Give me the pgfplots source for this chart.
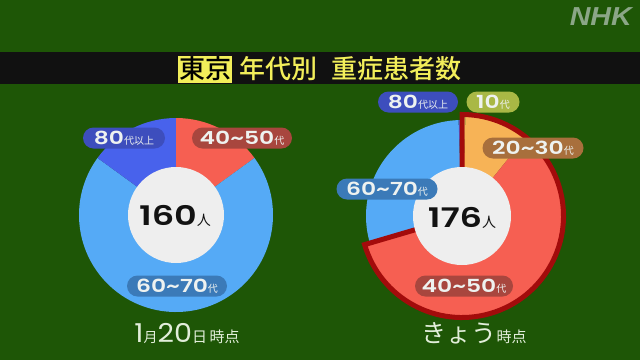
\documentclass[border=0pt]{standalone}
\usepackage{pgfplots}
\pgfplotsset{compat=1.18}
\usepackage{pgfplotstable}
\usepackage{fontspec}
\setmainfont{Noto Sans CJK JP}
\newfontfamily\cjk{Noto Sans CJK JP}
\newfontfamily\cjkmed{Noto Sans CJK JP Medium}
\newfontfamily\numfont{Poppins SemiBold}
\newfontfamily\capfont{Poppins}
\newfontfamily\logofont{Liberation Sans}

\definecolor{bg}{HTML}{1E5606}
\definecolor{bar}{HTML}{111111}
\definecolor{titleyellow}{HTML}{F2EE5A}
\definecolor{c10}{HTML}{F2EE7A}
\definecolor{c2030}{HTML}{F7B356}
\definecolor{c4050}{HTML}{F65F52}
\definecolor{c6070}{HTML}{55AAF6}
\definecolor{c80}{HTML}{4862EC}
\definecolor{hl}{HTML}{A30B0B}
\definecolor{hole}{HTML}{EEEEEE}
\definecolor{p10}{HTML}{A9B845}
\definecolor{p2030}{HTML}{A86F3C}
\definecolor{p4050}{HTML}{A8463E}
\definecolor{p6070}{HTML}{3B7AB8}
\definecolor{p80}{HTML}{3D4EBD}
\definecolor{pilltext}{HTML}{EEF2F0}
\definecolor{caption}{HTML}{E2EEDA}
\definecolor{logo}{HTML}{8BA687}

% severe cases by age group (persons)
\pgfplotstableread{
age   n    col    hl
10    0    c10    0
20-30 0    c2030  0
40-50 24   c4050  0
60-70 112  c6070  0
80+   24   c80    0
}\janTable

\pgfplotstableread{
age   n    col    hl
10    1    c10    1
20-30 18   c2030  1
40-50 105  c4050  1
60-70 51   c6070  0
80+   1    c80    0
}\todayTable

% #1 table, #2 cx, #3 cy, #4 outer radius, #5 extra radius of highlighted rows
\newcommand\donut[5]{%
  \pgfplotstablegetrowsof{#1}%
  \pgfmathtruncatemacro\lastrow{\pgfplotsretval-1}%
  \gdef\dtotal{0}%
  \foreach \r in {0,...,\lastrow}{%
    \pgfplotstablegetelem{\r}{n}\of{#1}%
    \pgfmathsetmacro\t{\dtotal+\pgfplotsretval}%
    \xdef\dtotal{\t}%
  }%
  \gdef\dangle{90}%
  \foreach \r in {0,...,\lastrow}{%
    \pgfplotstablegetelem{\r}{n}\of{#1}\let\cnt\pgfplotsretval
    \pgfplotstablegetelem{\r}{col}\of{#1}\let\col\pgfplotsretval
    \pgfplotstablegetelem{\r}{hl}\of{#1}\let\ishl\pgfplotsretval
    \pgfmathsetmacro\endangle{\dangle-360*(\cnt/\dtotal)}%
    \pgfmathsetmacro\rad{#4+#5*\ishl}%
    \ifdim\cnt pt>0pt
      \edef\cmd{\noexpand\fill[\col] (axis cs:#2,#3) -- ++(\dangle:\rad pt)
        arc[start angle=\dangle, end angle=\endangle, radius=\rad pt] -- cycle;}%
      \cmd
    \fi
    \expandafter\xdef\csname dang@\r\endcsname{\endangle}%
    \xdef\dangle{\endangle}%
  }%
}

\newcommand\pnum[1]{\scalebox{1.3}[1]{\numfont\fontsize{18}{18}\selectfont #1}}
\newcommand\psmall[1]{{\cjk\fontsize{10}{10}\selectfont #1}}
\newcommand\bignum[1]{\scalebox{1.3}[1]{\numfont\fontsize{27}{27}\selectfont #1}}
\tikzset{pill/.style={fill=#1, rounded corners=10.5pt, inner xsep=4pt,
  inner ysep=0pt, minimum height=21pt, text=pilltext, font=\cjk}}

\begin{document}
\begin{tikzpicture}
\begin{axis}[
  scale only axis, width=640pt, height=360pt,
  xmin=0, xmax=640, ymin=0, ymax=360, y dir=reverse,
  hide axis, clip=false,
]
\fill[bg] (axis cs:0,0) rectangle (axis cs:640,360);
% title bar
\fill[bar] (axis cs:0,52) rectangle (axis cs:640,84);
\node[fill=titleyellow, text=black, inner sep=0pt, minimum width=54pt, minimum height=27pt,
  font=\cjkmed\fontsize{26}{26}\selectfont] at (axis cs:205,69) {東京};
\node[anchor=west, text=titleyellow, inner sep=0pt,
  font=\cjkmed\fontsize{26}{26}\selectfont] at (axis cs:239,69) {年代別};
\node[anchor=west, text=titleyellow, inner sep=0pt,
  font=\cjkmed\fontsize{26}{26}\selectfont] at (axis cs:331,69) {重症患者数};
% logo
\node[anchor=north east, text=logo, inner sep=0pt] at (axis cs:632,7)
  {\scalebox{1.1}[1]{\logofont\bfseries\itshape\fontsize{26}{26}\selectfont NHK}};

% January 20
\donut{\janTable}{176}{215}{97}{0}
\fill[hole] (axis cs:176,215) circle[radius=48pt];

% today
\donut{\todayTable}{462}{216}{96}{4}
\edef\cmd{\noexpand\draw[hl, line width=5pt, line join=miter] (axis cs:462,216)
  -- ++(\csname dang@2\endcsname:101.5pt)
  arc[start angle=\csname dang@2\endcsname, end angle=90, radius=101.5pt] -- cycle;}
\cmd
\fill[hole] (axis cs:462,216) circle[radius=49pt];

% labels, January 20
\node[pill=p80, minimum width=82pt] at (axis cs:124,138) {\pnum{80}\psmall{代以上}};
\node[pill=p4050, minimum width=100pt] at (axis cs:242,138) {\pnum{40\textasciitilde50}\psmall{代}};
\node[pill=p6070, minimum width=100pt] at (axis cs:177,286) {\pnum{60\textasciitilde70}\psmall{代}};
\node[text=black!93, inner sep=0pt] at (axis cs:175,216)
  {\bignum{160}{\cjk\fontsize{14}{14}\selectfont 人}};

% labels, today
\node[pill=p80, minimum width=80pt] at (axis cs:418,102) {\pnum{80}\psmall{代以上}};
\node[pill=p10, minimum width=53pt] at (axis cs:493,102) {\pnum{10}\psmall{代}};
\node[pill=p2030, minimum width=101pt] at (axis cs:533,148) {\pnum{20\textasciitilde30}\psmall{代}};
\node[pill=p6070, minimum width=101pt] at (axis cs:387,189) {\pnum{60\textasciitilde70}\psmall{代}};
\node[pill=p4050, minimum width=98pt] at (axis cs:464,286) {\pnum{40\textasciitilde50}\psmall{代}};
\node[text=black!93, inner sep=0pt] at (axis cs:462,218)
  {\bignum{176}{\cjk\fontsize{14}{14}\selectfont 人}};

% captions
\node[text=caption, inner sep=0pt] at (axis cs:187,334)
  {\scalebox{1.1}[1]{\capfont\fontsize{26}{26}\selectfont 1}{\cjk\fontsize{14}{14}\selectfont 月}\scalebox{1.1}[1]{\capfont\fontsize{26}{26}\selectfont 20}{\cjk\fontsize{15}{15}\selectfont 日\,時点}};
\node[text=caption, inner sep=0pt] at (axis cs:474,333)
  {{\cjk\fontsize{25}{25}\selectfont きょう}{\cjk\fontsize{15}{15}\selectfont 時点}};
\end{axis}
\end{tikzpicture}
\end{document}
